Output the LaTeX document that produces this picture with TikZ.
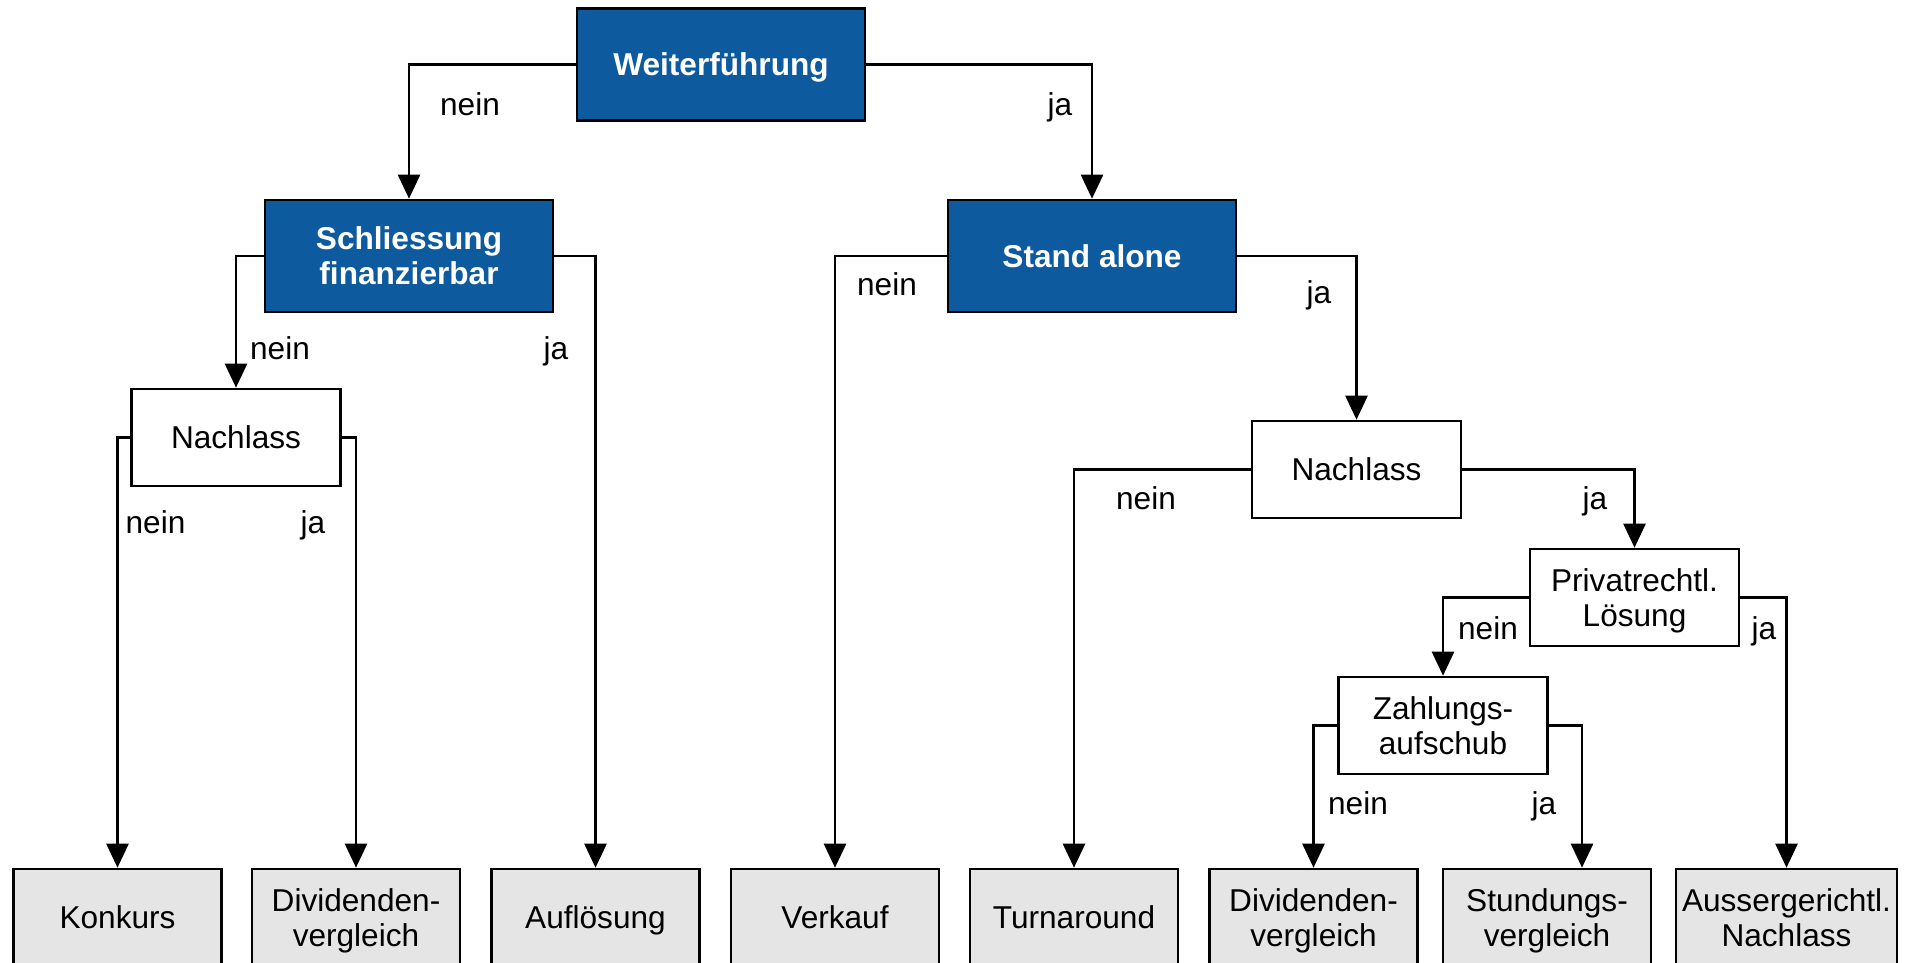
\documentclass[tikz,border=0pt]{standalone}
\usepackage{fontspec}
\setmainfont{Liberation Sans}
\usetikzlibrary{arrows.meta}
\definecolor{boxblue}{RGB}{14,90,158}
\definecolor{boxgray}{RGB}{229,229,229}
\begin{document}
\begin{tikzpicture}[x=0.5pt,y=-0.5pt,
  font=\fontsize{15.8}{17.5}\selectfont,
  decbox/.style={draw,line width=1.3pt,fill=boxblue,text=white,align=center,text depth=0pt,
    font=\fontsize{15.8}{17.5}\selectfont\bfseries,minimum width=144pt,minimum height=56pt},
  askbox/.style={draw,line width=1.3pt,fill=white,align=center,inner sep=1pt,text depth=0pt,
    minimum width=104.5pt,minimum height=48.5pt},
  endbox/.style={draw,line width=1.3pt,fill=boxgray,align=center,inner sep=1pt,text depth=0pt,
    minimum width=104pt,minimum height=48.5pt},
  arr/.style={line width=1.3pt,-{Triangle[length=12pt,width=11pt]}},
  lab/.style={anchor=base,inner sep=0pt}]
  \useasboundingbox (0,0) rectangle (1905,963);
  \clip (0,0) rectangle (1905,963);
  % questions
  \node[decbox] (weiter) at (721,64.5) {Weiterführung};
  \node[decbox] (schliess) at (409,256) {Schliessung\\finanzierbar};
  \node[decbox] (stand) at (1092,256) {Stand alone};
  \node[askbox] (nachlA) at (236,437.5) {Nachlass};
  \node[askbox] (nachlB) at (1356.5,469.5) {Nachlass};
  \node[askbox] (privat) at (1634.5,597.5) {Privatrechtl.\\Lösung};
  \node[askbox] (zahlung) at (1443,725.5) {Zahlungs-\\aufschub};
  % outcomes
  \node[endbox] (konkurs) at (117.5,917.5) {Konkurs};
  \node[endbox] (divA) at (356,917.5) {Dividenden-\\vergleich};
  \node[endbox] (aufl) at (595.5,917.5) {Auflösung};
  \node[endbox] (verkauf) at (835,917.5) {Verkauf};
  \node[endbox] (turn) at (1074,917.5) {Turnaround};
  \node[endbox] (divB) at (1313.5,917.5) {Dividenden-\\vergleich};
  \node[endbox] (stund) at (1547,917.5) {Stundungs-\\vergleich};
  \node[endbox,minimum width=110.5pt] (ausser) at (1786.5,917.5) {Aussergerichtl.\\Nachlass};
  % connectors
  \draw[arr] (weiter.west) -| (schliess.north);
  \draw[arr] (weiter.east) -| (stand.north);
  \draw[arr] (schliess.west) -| (nachlA.north);
  \draw[arr] (schliess.east) -| (aufl.north);
  \draw[arr] (nachlA.west) -| (konkurs.north);
  \draw[arr] (nachlA.east) -| (divA.north);
  \draw[arr] (stand.west) -| (verkauf.north);
  \draw[arr] (stand.east) -| (nachlB.north);
  \draw[arr] (nachlB.west) -| (turn.north);
  \draw[arr] (nachlB.east) -| (privat.north);
  \draw[arr] (privat.west) -| (zahlung.north);
  \draw[arr] (privat.east) -| (ausser.north);
  \draw[arr] (zahlung.west) -| (divB.north);
  \draw[arr] (zahlung.east) -| ([xshift=17.5pt]stund.north);
  % labels
  \node[lab] (n1) at (470,116) {nein};
  \node[lab] (j1) at (1060,116) {ja};
  \node[lab] (n2) at (280,359) {nein};
  \node[lab] (j2) at (556,359) {ja};
  \node[lab] (n3) at (887,295) {nein};
  \node[lab] (j3) at (1319,303) {ja};
  \node[lab] (n4) at (155.5,533) {nein};
  \node[lab] (j4) at (313,533) {ja};
  \node[lab] (n5) at (1146,509) {nein};
  \node[lab] (j5) at (1595,509) {ja};
  \node[lab] (n6) at (1488,639) {nein};
  \node[lab] (j6) at (1764,639) {ja};
  \node[lab] (n7) at (1358,814) {nein};
  \node[lab] (j7) at (1544,814) {ja};
\end{tikzpicture}
\end{document}
